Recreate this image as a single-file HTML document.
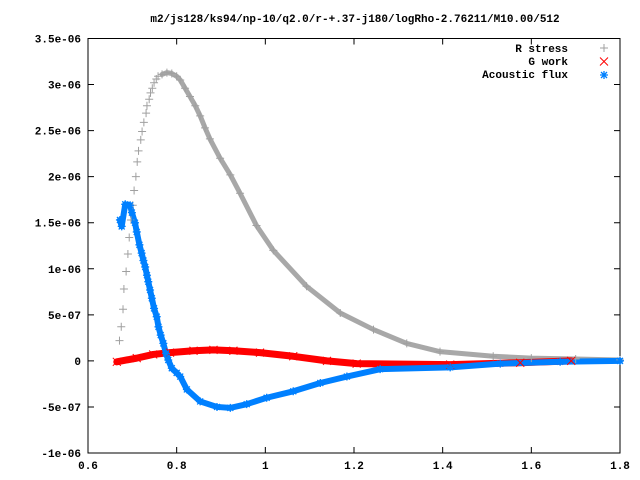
<!DOCTYPE html>
<html><head><meta charset="utf-8"><style>
body{margin:0;background:#fff}
svg{display:block}
text{font-family:"Liberation Mono","DejaVu Sans Mono",monospace;font-size:11px;font-weight:bold;fill:#000}
</style></head><body>
<svg id="chart" width="640" height="480" viewBox="0 0 640 480" xmlns="http://www.w3.org/2000/svg">
<text x="355" y="22" text-anchor="middle">m2/js128/ks94/np-10/q2.0/r-+.37-j180/logRho-2.76211/M10.00/512</text>
<rect x="88" y="38.5" width="532" height="414.5" fill="none" stroke="#000" stroke-width="1"/>
<g id="axes"></g>
<g id="series"></g>
<g id="legend">
<text x="568" y="52" text-anchor="end">R stress</text>
<text x="568" y="65" text-anchor="end">G work</text>
<text x="568" y="78" text-anchor="end">Acoustic flux</text>
</g>
</svg>
<script>
const xTicks=[0.6,0.8,1,1.2,1.4,1.6,1.8];
const xTickLabels=["0.6","0.8","1","1.2","1.4","1.6","1.8"];
const yTicks=[3.5e-6,3e-6,2.5e-6,2e-6,1.5e-6,1e-6,5e-7,0,-5e-7,-1e-6];
const yTickLabels=["3.5e-06","3e-06","2.5e-06","2e-06","1.5e-06","1e-06","5e-07","0","-5e-07","-1e-06"];
const rX=[0.671,0.675,0.679,0.681,0.686,0.690,0.693,0.697,0.701,0.704,0.708,0.711,0.714,0.719,0.722,0.726,0.731,0.733,0.738,0.741,0.745,0.749,0.754,0.758,0.767,0.778,0.789,0.800,0.808,0.819,0.830,0.842,0.853,0.864,0.875,0.898,0.921,0.943,0.980,1.018,1.093,1.169,1.244,1.319,1.394,1.514,1.6,1.7,1.8];
const rY=[0.22,0.37,0.56,0.78,0.97,1.16,1.34,1.53,1.69,1.85,2.0,2.16,2.28,2.40,2.49,2.59,2.69,2.77,2.84,2.91,2.96,3.02,3.06,3.09,3.11,3.13,3.12,3.09,3.05,2.96,2.87,2.77,2.66,2.53,2.41,2.20,2.02,1.82,1.47,1.20,0.81,0.52,0.34,0.19,0.10,0.05,0.03,0.02,0.01];
const gX=[0.665,0.710,0.747,0.785,0.838,0.883,0.928,0.988,1.063,1.139,1.206,1.417,1.575,1.69];
const gY=[-0.01,0.03,0.07,0.09,0.11,0.12,0.11,0.09,0.05,0.00,-0.03,-0.04,-0.02,0.0];
const aX=[0.672,0.676,0.684,0.695,0.699,0.706,0.710,0.716,0.721,0.725,0.729,0.733,0.736,0.740,0.744,0.749,0.755,0.759,0.764,0.770,0.776,0.781,0.789,0.800,0.808,0.823,0.853,0.891,0.921,0.958,1.003,1.063,1.124,1.184,1.259,1.417,1.530,1.665,1.8];
const aY=[1.53,1.46,1.70,1.69,1.61,1.50,1.40,1.26,1.17,1.09,1.02,0.93,0.86,0.77,0.68,0.57,0.48,0.37,0.28,0.19,0.08,0.01,-0.08,-0.13,-0.17,-0.31,-0.44,-0.50,-0.51,-0.47,-0.40,-0.33,-0.24,-0.17,-0.09,-0.07,-0.03,-0.01,0];
const NS="http://www.w3.org/2000/svg";
const L=88,R=620,T=38.5,B=453;
function sx(v){return L+(v-0.6)/1.2*(R-L);}
function sy(v){return B-(v+1e-6)/4.5e-6*(B-T);}
function mk(tag,attrs,parent){const e=document.createElementNS(NS,tag);for(const k in attrs)e.setAttribute(k,attrs[k]);parent.appendChild(e);return e;}
const axes=document.getElementById('axes');
xTicks.forEach((v,i)=>{const x=sx(v);
 const t=mk('path',{d:`M${x},${B}v-6M${x},${T}v6`,stroke:'#000','stroke-width':1},axes);
 
 
 const l=mk('text',{x:x,y:B+16,'text-anchor':'middle'},axes);l.textContent=xTickLabels[i];
 
 
});
yTicks.forEach((v,i)=>{const y=sy(v);
 const t=mk('path',{d:`M${L},${y}h6M${R},${y}h-6`,stroke:'#000','stroke-width':1},axes);
 
 
 const l=mk('text',{x:L-7,y:y+4,'text-anchor':'end'},axes);l.textContent=yTickLabels[i];
 
 
});
const ser=document.getElementById('series');
function band(xs,ys,col,w,start,name){let d='';for(let i=start;i<xs.length;i++){d+=(i==start?'M':'L')+sx(xs[i])+','+sy(ys[i]*1e-6);}
 const p=mk('path',{d:d,fill:'none',stroke:col,'stroke-width':w,'stroke-linejoin':'round','stroke-linecap':'round'},ser);
 
 }
function plus(x,y,c,g){mk('path',{d:`M${x-4},${y}h8M${x},${y-4}v8`,stroke:c,'stroke-width':1},g);}
function cross(x,y,c,g){mk('path',{d:`M${x-4},${y-4}l8,8M${x-4},${y+4}l8,-8`,stroke:c,'stroke-width':1},g);}
function star(x,y,c,g){mk('path',{d:`M${x-4},${y}h8M${x},${y-4}v8M${x-3},${y-3}l6,6M${x-3},${y+3}l6,-6`,stroke:c,'stroke-width':1.3},g);}
band(rX,rY,'#a8a8a8',5,24,'r-stress-band');
band(gX,gY,'#ff0000',7,0,'g-work-band');
band(aX,aY,'#0080ff',6,0,'acoustic-flux-band');
const gr=mk('g',{},ser);
rX.forEach((v,i)=>plus(sx(v),sy(rY[i]*1e-6),'#a0a0a0',gr));
const gg=mk('g',{},ser);
gX.forEach((v,i)=>cross(sx(v),sy(gY[i]*1e-6),'#ff0000',gg));
const ga=mk('g',{},ser);
aX.forEach((v,i)=>star(sx(v),sy(aY[i]*1e-6),'#0080ff',ga));
const lg=document.getElementById('legend');
const l1=mk('g',{},lg);plus(604,48,'#a0a0a0',l1);
const l2=mk('g',{},lg);cross(604,61.5,'#ff0000',l2);
const l3=mk('g',{},lg);star(604,75,'#0080ff',l3);
</script>
</body></html>
